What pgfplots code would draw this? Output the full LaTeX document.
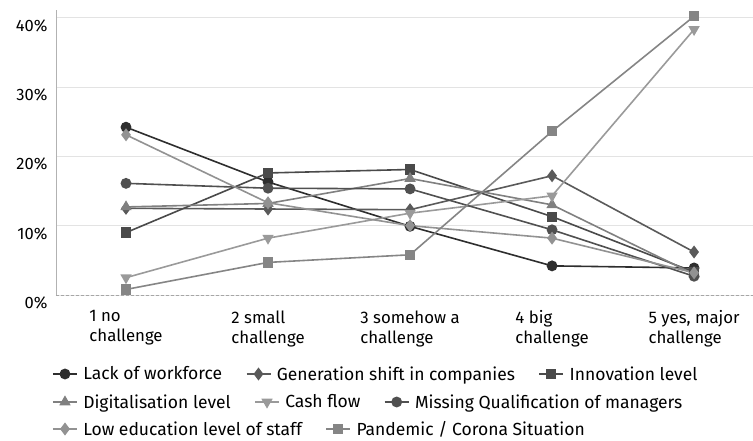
\documentclass[border=0pt]{standalone}
\usepackage{fontspec}
\setmainfont{Fira Sans}
\usepackage{pgfplots}
\pgfplotsset{compat=1.18}

\definecolor{cLack}{HTML}{2E2E2E}
\definecolor{cGen}{HTML}{5A5A5A}
\definecolor{cInno}{HTML}{4A4A4A}
\definecolor{cDigi}{HTML}{808080}
\definecolor{cCash}{HTML}{9A9A9A}
\definecolor{cQual}{HTML}{505050}
\definecolor{cEdu}{HTML}{929292}
\definecolor{cPand}{HTML}{858585}

\pgfplotsset{
  ser/.style={line width=1.6bp, mark size=4.6bp},
  sLack/.style={ser, color=cLack, mark=*},
  sGen/.style={ser, color=cGen, mark=diamond*, mark size=5.2bp},
  sInno/.style={ser, color=cInno, mark=square*, mark size=4.3bp},
  sDigi/.style={ser, color=cDigi, mark=triangle*, mark size=5bp},
  sCash/.style={ser, color=cCash, mark=triangle*, mark options={rotate=180}, mark size=5bp},
  sQual/.style={ser, color=cQual, mark=*},
  sEdu/.style={ser, color=cEdu, mark=diamond*, mark size=5.2bp},
  sPand/.style={ser, color=cPand, mark=square*, mark size=4.3bp},
  legrow/.style={
    hide axis, scale only axis, width=1bp, height=1bp,
    xmin=0, xmax=1, ymin=0, ymax=1, anchor=south west,
    legend cell align=left,
    legend image code/.code={%
      \draw[mark repeat=2,mark phase=2,#1] plot coordinates {(0bp,0bp)(12bp,0bp)(24bp,0bp)};},
    legend style={at={(0,0)}, anchor=west, draw=none, fill=none,
      legend columns=-1, font=\fontsize{17.5bp}{20bp}\selectfont,
      /tikz/every odd column/.append style={column sep=4bp},
      /tikz/every even column/.append style={column sep=22bp},
      nodes={inner sep=1.5bp}},
  },
}

\begin{document}
\begin{tikzpicture}
\useasboundingbox (-56bp,-146bp) rectangle (697bp,295bp);
\begin{axis}[
  at={(0,0)}, anchor=south west,
  scale only axis, width=697bp, height=285bp,
  xmin=0.507, xmax=5.415, ymin=0, ymax=41.1,
  axis x line*=bottom, axis y line*=left,
  y axis line style={gray!60, line width=0.8bp},
  x axis line style={gray!70, line width=0.8bp, dash pattern=on 3bp off 2bp},
  major tick length=0,
  xtick={1,2,3,4,5},
  xticklabels={{1 no\\challenge},{2 small\\challenge},{3 somehow a\\challenge},{4 big\\challenge},{5 yes, major\\challenge}},
  xticklabel style={align=left, font=\fontsize{16.8bp}{20bp}\selectfont, yshift=-12bp},
  ytick={0,10,20,30,40},
  yticklabel={\pgfmathprintnumber{\tick}\%},
  yticklabel style={font=\fontsize{16.5bp}{20bp}\selectfont, xshift=-5bp, yshift=-8bp},
  /pgf/number format/assume math mode=true,
  ymajorgrids, grid style={gray!22, line width=0.8bp},
  clip=false,
]
\addplot[sLack] coordinates {(1,24.2) (2,16.3) (3,9.9) (4,4.2) (5,3.9)};
\addplot[sGen]  coordinates {(1,12.5) (2,12.4) (3,12.3) (4,17.2) (5,6.2)};
\addplot[sInno] coordinates {(1,9.0) (2,17.6) (3,18.1) (4,11.3) (5,3.3)};
\addplot[sDigi] coordinates {(1,12.7) (2,13.2) (3,16.8) (4,13.0) (5,3.0)};
\addplot[sCash] coordinates {(1,2.5) (2,8.2) (3,11.8) (4,14.3) (5,38.3)};
\addplot[sQual] coordinates {(1,16.1) (2,15.4) (3,15.3) (4,9.4) (5,2.7)};
\addplot[sEdu]  coordinates {(1,23.1) (2,13.3) (3,10.0) (4,8.2) (5,3.2)};
\addplot[sPand] coordinates {(1,0.8) (2,4.7) (3,5.8) (4,23.6) (5,40.2)};
\end{axis}

% legend, first row
\begin{axis}[legrow, at={(-7bp,-79bp)}]
\addlegendimage{sLack}\addlegendentry{Lack of workforce}
\addlegendimage{sGen}\addlegendentry{Generation shift in companies}
\addlegendimage{sInno}\addlegendentry{Innovation level}
\end{axis}
% legend, second row
\begin{axis}[legrow, at={(-7bp,-107bp)}]
\addlegendimage{sDigi}\addlegendentry{Digitalisation level}
\addlegendimage{sCash}\addlegendentry{Cash flow}
\addlegendimage{sQual}\addlegendentry{Missing Qualification of managers}
\end{axis}
% legend, third row
\begin{axis}[legrow, at={(-7bp,-134bp)}]
\addlegendimage{sEdu}\addlegendentry{Low education level of staff}
\addlegendimage{sPand}\addlegendentry{Pandemic / Corona Situation}
\end{axis}
\end{tikzpicture}
\end{document}
